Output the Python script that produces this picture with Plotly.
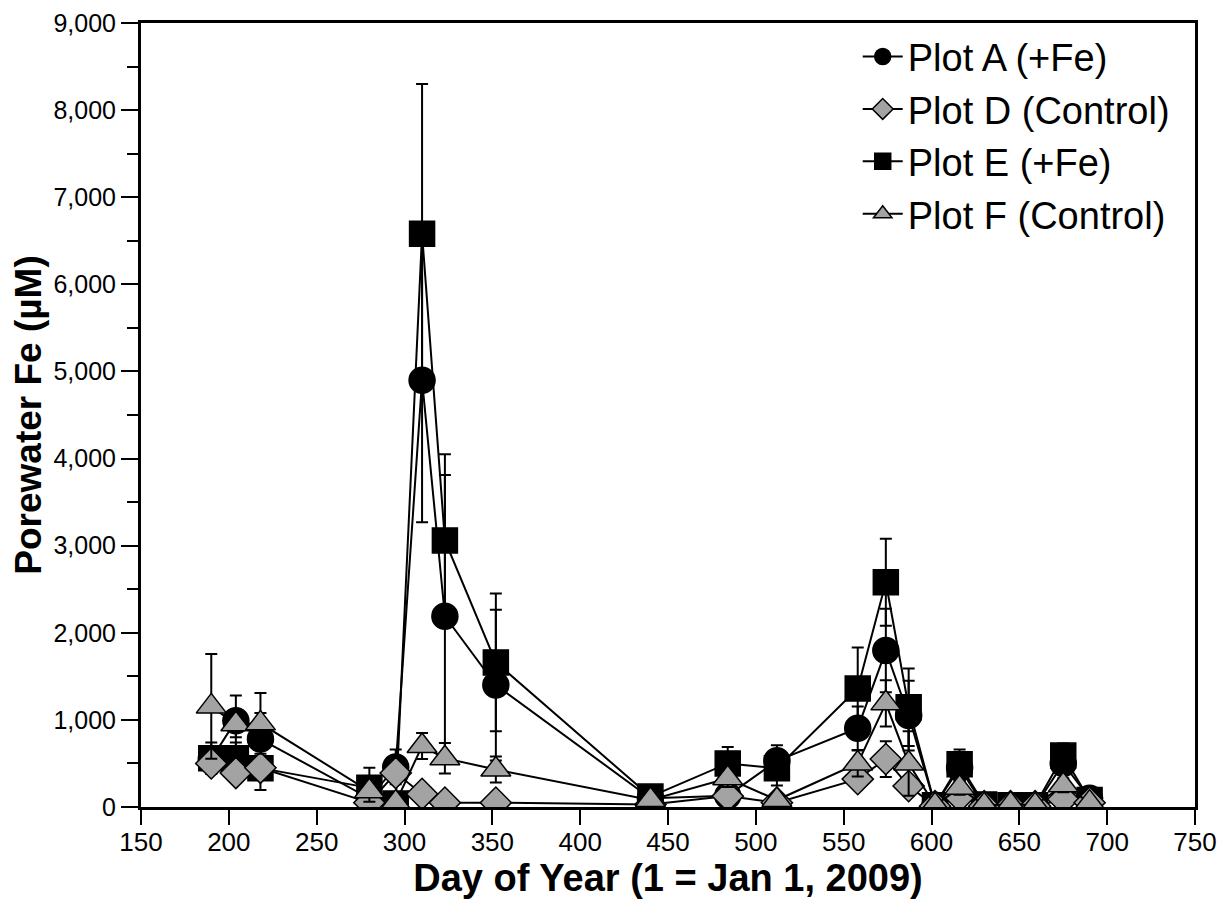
import plotly.graph_objects as go

days = [190, 204, 218, 280, 295, 310, 323, 352, 440, 484, 512, 558, 574, 587, 602, 616, 630, 645, 659, 675, 690]

plot_a = [550, 990, 780, 100, 460, 4900, 2190, 1400, 100, 130, 530, 905, 1796, 1050, 20, 450, 10, 10, 10, 500, 100]
plot_a_err = [150, 290, 300, 80, 200, 1630, 1620, 865, 40, 60, 180, 250, 480, 400, 10, 150, 10, 10, 10, 120, 40]

plot_d = [500, 390, 450, 50, 390, 150, 50, 50, 30, 125, 50, 320, 550, 240, 10, 120, 10, 10, 10, 90, 50]
plot_d_err = [100, 100, 100, 30, 100, 50, 30, 30, 10, 50, 20, 80, 205, 80, 5, 60, 5, 5, 5, 40, 20]

plot_e = [560, 560, 446, 220, 40, 6580, 3060, 1660, 120, 500, 446, 1360, 2580, 1145, 20, 490, 30, 20, 20, 590, 80]
plot_e_err = [180, 180, 250, 230, 30, 1720, 990, 790, 50, 190, 200, 470, 500, 445, 10, 170, 10, 10, 10, 140, 40]

plot_f = [1155, 950, 960, 180, 50, 700, 560, 430, 80, 330, 80, 500, 1190, 500, 20, 220, 20, 30, 20, 250, 50]
plot_f_err = [600, 150, 350, 120, 30, 150, 175, 150, 40, 100, 60, 150, 265, 370, 10, 80, 10, 10, 10, 80, 20]

series_names = ["Plot A (+Fe)", "Plot D (Control)", "Plot E (+Fe)", "Plot F (Control)"]

BLACK = "#000000"
GRAY = "#a3a3a3"

def trace(name, y, err, symbol, color, size, rank):
    return go.Scatter(
        x=days, y=y, name=name, mode="lines+markers",
        line=dict(color=BLACK, width=2),
        marker=dict(symbol=symbol, size=size, color=color,
                    line=dict(color=BLACK, width=1.5)),
        error_y=dict(type="data", array=err, visible=True,
                     color=BLACK, thickness=2, width=6),
        legendrank=rank,
    )

fig = go.Figure()
fig.add_trace(trace(series_names[0], plot_a, plot_a_err, "circle", BLACK, 26, 1))
fig.add_trace(trace(series_names[2], plot_e, plot_e_err, "square", BLACK, 25, 3))
fig.add_trace(trace(series_names[1], plot_d, plot_d_err, "diamond", GRAY, 24, 2))
fig.add_trace(trace(series_names[3], plot_f, plot_f_err, "triangle-up", GRAY, 26, 4))

font_family = "Liberation Sans, Arial, sans-serif"

fig.update_layout(
    width=1225, height=903,
    paper_bgcolor="white", plot_bgcolor="white",
    margin=dict(l=133, r=38, t=15, b=104, autoexpand=False),
    font=dict(family=font_family, color="black"),
    showlegend=True,
    legend=dict(x=0.68, y=0.997, xanchor="left", yanchor="top",
                font=dict(size=38, family=font_family, color="black"),
                bgcolor="rgba(0,0,0,0)", tracegroupgap=0,
                itemwidth=40),
    xaxis=dict(
        range=[150, 750], tickmode="array",
        tickvals=list(range(150, 751, 50)),
        showgrid=False, zeroline=False, automargin=False,
        showline=True, linecolor="black", linewidth=3, mirror=True,
        ticks="outside", ticklen=15, tickwidth=2, tickcolor="black",
        ticklabeloverflow="allow", ticklabelstandoff=-5,
        tickfont=dict(size=26, family=font_family),
        title=dict(text="<b>Day of Year (1 = Jan 1, 2009)</b>",
                   font=dict(size=38, family=font_family), standoff=0),
    ),
    yaxis=dict(
        range=[0, 9000], tickmode="array",
        tickvals=list(range(0, 9001, 1000)),
        tickformat=",d",
        showgrid=False, zeroline=False, automargin=False,
        showline=True, linecolor="black", linewidth=3, mirror=True,
        ticks="outside", ticklen=17, tickwidth=2, tickcolor="black",
        ticklabeloverflow="allow",
        tickfont=dict(size=25, family=font_family),
        minor=dict(dtick=500, ticks="outside", ticklen=11, tickwidth=2,
                   tickcolor="black", showgrid=False),
        title=dict(text="<b>Porewater Fe (µM)</b>",
                   font=dict(size=37, family=font_family), standoff=2),
    ),
)

fig.write_html("out.html")
